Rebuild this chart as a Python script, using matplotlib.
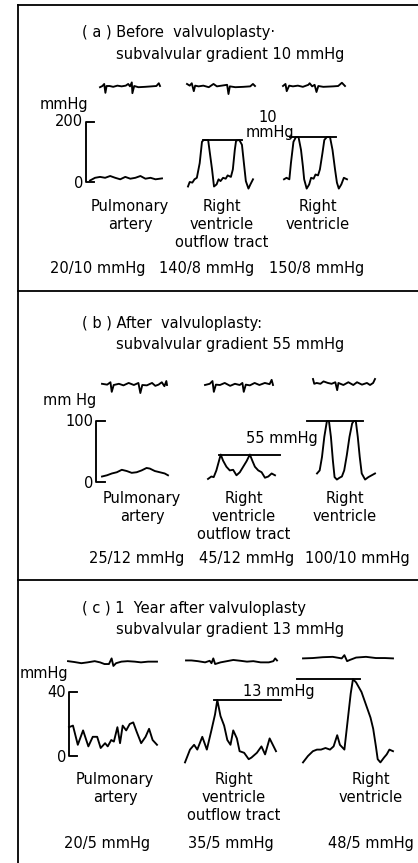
import numpy as np
import matplotlib.pyplot as plt

plt.rcParams['font.family'] = ['DejaVu Sans']

W, H = 418, 863

# ---- panel (a): before valvuloplasty ----
a_title = ["( a ) Before  valvuloplasty·", "subvalvular gradient 10 mmHg"]
a_pa_t = [0, .07, .14, .21, .28, .35, .42, .49, .56, .63, .70, .77, .84, .91, 1.0]
a_pa_p = [5, 14, 17, 14, 20, 14, 9, 17, 11, 14, 20, 11, 14, 9, 12]
a_rvot_t = [0, .026, .067, .10, .136, .18, .215, .24, .31, .33, .37, .40, .44, .47, .50,
            .54, .58, .61, .66, .69, .72, .74, .79, .83, .86, .89, .93, .96, 1.0]
a_rvot_p = [-15, 0, -2, 9, 14, 63, 134, 140, 140, 107, 42, -15, -8, 9, 3,
            14, 11, 22, 17, 42, 107, 138, 140, 124, 63, 3, -22, -8, 9]
a_rv_t = [0, .04, .085, .11, .15, .19, .23, .27, .30, .32, .36, .40, .43, .47, .50,
          .54, .57, .61, .64, .68, .73, .77, .81, .84, .87, .91, .95, 1.0]
a_rv_p = [9, 14, 9, 63, 134, 150, 150, 107, 52, 9, -22, -8, 14, 11, 25,
          22, 42, 96, 140, 150, 150, 107, 42, -2, -22, -8, 14, 9]
a_ecg = [
    ([0, .04, .07, .09, .11, .16, .22, .29, .36, .43, .47, .50, .53, .54, .57, .64, .75, .86, .94, .98, 1.0],
     [-1, 0, 1.7, -5.7, 0, 0, -.7, .3, -.3, .3, 1.7, -.3, 3, -6, 0, -1, -.7, -.3, 0, 2.3, 0]),
    ([0, .04, .07, .10, .12, .17, .24, .32, .39, .44, .51, .59, .61, .63, .71, .83, .93, .97, 1.0],
     [1.7, .3, 2.3, -4.3, .3, -.3, .3, -1, 1.7, -.3, .3, 1, -6.7, -.3, -1, -.7, -.3, 1.7, 0]),
    ([0, .04, .06, .10, .16, .24, .32, .41, .43, .47, .51, .54, .57, .65, .81, .89, .95, 1.0],
     [0, 1.7, -4.3, .3, -.3, .3, -.7, 1, 2.3, -.3, 1, -5, 0, -.7, -.3, 0, 2.7, 0]),
]
a_pressures = ["20/10 mmHg", "140/8 mmHg", "150/8 mmHg"]

# ---- panel (b): after valvuloplasty ----
b_title = ["( b ) After  valvuloplasty:", "subvalvular gradient 55 mmHg"]
b_pa_t = [0, .075, .15, .225, .30, .375, .45, .525, .60, .675, .725, .80, .875, .95, 1.0]
b_pa_p = [9, 11, 14, 16, 20, 18, 15, 16, 19, 23, 22, 18, 16, 14, 11]
b_rvot_t = [0, .05, .085, .125, .16, .19, .225, .275, .325, .375, .425, .475, .525, .575,
            .625, .665, .70, .75, .80, .85, .90, .95, 1.0]
b_rvot_p = [5, 9, 8, 19, 33, 45, 35, 25, 19, 20, 11, 16, 25, 34,
            45, 34, 25, 19, 16, 7, 9, 14, 11]
b_rv_t = [0, .046, .086, .126, .171, .206, .24, .274, .303, .343, .389, .429, .469, .514,
          .56, .606, .634, .669, .703, .737, .771, .829, .886, 1.0]
b_rv_p = [14, 19, 41, 74, 100, 100, 74, 35, 8, 4, 7, 9, 19, 44,
          74, 96, 100, 100, 74, 41, 14, 4, 8, 14]
b_ecg = [
    ([0, .08, .13, .15, .18, .26, .33, .41, .49, .56, .59, .62, .69, .77, .82, .87, .92, .96, .99, 1.0],
     [1, .3, 2.3, -5.7, 0, 1, -.3, 1.7, 0, 1.7, -6.7, 0, -.3, 1.7, -.7, .3, 2.3, -1, 3.3, 0]),
    ([0, .07, .11, .13, .16, .22, .29, .37, .44, .51, .55, .57, .60, .66, .73, .80, .88, .95, .98, 1.0],
     [0, 1, 3.3, -5.7, .3, 0, 1.7, -.7, 1, 0, 1.7, -5.7, .3, -.3, 1.7, 0, 1.7, .7, 4.3, 0]),
    ([0, .02, .06, .12, .17, .24, .30, .36, .39, .41, .49, .57, .65, .71, .79, .87, .92, .97, 1.0],
     [5, 1, 1.7, 1, 3, 1.7, 1, 2.3, -4.3, 1.7, 0, 2.3, 0, 2.3, .3, 1.7, 0, 1.7, 5]),
]
b_pressures = ["25/12 mmHg", "45/12 mmHg", "100/10 mmHg"]

# ---- panel (c): one year later ----
c_title = ["( c ) 1  Year after valvuloplasty", "subvalvular gradient 13 mmHg"]
c_pa_t = [0, .045, .10, .16, .22, .27, .32, .36, .41, .44, .48, .51, .55, .58, .61, .65,
          .69, .73, .77, .82, .87, .91, .95, 1.0]
c_pa_p = [18, 19, 7, 16, 6, 12, 12, 5, 8, 6, 10, 9, 18, 8, 19, 16,
          20, 21, 15, 8, 12, 17, 10, 7]
c_rvot_t = [0, .055, .10, .135, .19, .24, .29, .33, .355, .39, .43, .465, .50, .53, .57, .60,
            .65, .70, .73, .79, .84, .88, .93, 1.0]
c_rvot_p = [-4, 4, 7, 4, 12, 4, 16, 26, 35, 25, 19, 10, 7, 16, 11, 3,
            2, -2, -1, 2, 6, 1, 11, 3]
c_rv_t = [0, .055, .11, .155, .20, .25, .30, .34, .38, .41, .46, .50, .53, .555, .59, .65,
          .70, .75, .78, .81, .83, .86, .90, .93, .96, 1.0]
c_rv_p = [-4, 0, 3, 4, 4, 5, 4, 6, 13, 7, 4, 24, 39, 48, 46, 40,
          32, 24, 17, 6, -2, -4, -1, 1, 4, 3]
c_ecg = [
    ([0, .07, .15, .22, .30, .36, .41, .46, .49, .51, .54, .60, .67, .75, .82, .90, 1.0],
     [.7, 0, -1, -.3, .7, -.3, -1.7, -1.7, 3, -3.3, -1, .3, .7, .3, -.3, .3, .3]),
    ([0, .06, .13, .21, .26, .28, .30, .32, .38, .45, .52, .60, .67, .74, .82, .91, .96, .98, 1.0],
     [1.3, 1.3, .7, -.3, 1, -1, 3, -1.7, -.3, .7, 1.7, 1, .3, .7, -.3, -.3, .7, 3, 1.3]),
    ([0, .11, .22, .33, .43, .46, .49, .52, .59, .70, .81, .91, 1.0],
     [3, 3.3, 4, 4.3, 3, 5.7, .7, 1.7, 3.7, 4.3, 3.3, 3.3, 3]),
]
c_pressures = ["20/5 mmHg", "35/5 mmHg", "48/5 mmHg"]

sites = [["Pulmonary", "artery"],
         ["Right", "ventricle", "outflow tract"],
         ["Right", "ventricle"]]

panels = [
    dict(title=a_title, title_y=33, unit="mmHg", unit_xy=(64, 105), top_val=200,
         zero_px=182, top_px=122, bar_x=86, bar_len=8,
         traces=[(a_pa_t, a_pa_p, 90, 162), (a_rvot_t, a_rvot_p, 188, 253), (a_rv_t, a_rv_p, 284, 347)],
         grad_lines=[(140, 203, 242), (150, 290, 336)],
         grad_text=[("10", 268, 117), ("mmHg", 270, 133)],
         ecg=a_ecg, ecg_y=86, ecg_gain=1.2, ecg_x=[(100, 160), (187, 255), (283, 345)],
         site_x=[130, 222, 318], site_y=206, press=a_pressures, press_x=[98, 207, 317], press_y=268),
    dict(title=b_title, title_y=323, unit="mm Hg", unit_xy=(70, 400), top_val=100,
         zero_px=482, top_px=421, bar_x=96, bar_len=9,
         traces=[(b_pa_t, b_pa_p, 102, 168), (b_rvot_t, b_rvot_p, 208, 275), (b_rv_t, b_rv_p, 317, 375)],
         grad_lines=[(45, 219, 280), (100, 307, 363)],
         grad_text=[("55 mmHg", 282, 438)],
         ecg=b_ecg, ecg_y=385, ecg_gain=1.2, ecg_x=[(102, 167), (205, 273), (313, 375)],
         site_x=[142, 244, 345], site_y=498, press=b_pressures, press_x=[137, 247, 357], press_y=558),
    dict(title=c_title, title_y=608, unit="mmHg", unit_xy=(44, 673), top_val=40,
         zero_px=756, top_px=692, bar_x=69, bar_len=8,
         traces=[(c_pa_t, c_pa_p, 69, 157), (c_rvot_t, c_rvot_p, 185, 276), (c_rv_t, c_rv_p, 303, 393)],
         grad_lines=[(35, 214, 281), (48, 297, 360)],
         grad_text=[("13 mmHg", 279, 691)],
         ecg=c_ecg, ecg_y=662, ecg_gain=1.2, ecg_x=[(68, 157), (186, 277), (303, 393)],
         site_x=[115, 234, 371], site_y=779, press=c_pressures, press_x=[107, 231, 371], press_y=843),
]

fig = plt.figure(figsize=(W / 100, H / 100), dpi=100)
bg = fig.add_axes([0, 0, 1, 1])
bg.set_xlim(0, W)
bg.set_ylim(H, 0)
bg.axis("off")

lw = 1.35
fs = 10.5

# frame: left edge, top edge and the two dividers
bg.plot([18, 18], [5, H], color="black", lw=1.3)
for yy in [5, 291, 580]:
    bg.plot([18, W], [yy, yy], color="black", lw=1.3)

for pnl in panels:
    # heading
    bg.text(82, pnl["title_y"], pnl["title"][0], fontsize=fs, va="center", ha="left")
    bg.text(116, pnl["title_y"] + 21, pnl["title"][1], fontsize=fs, va="center", ha="left")

    # ECG strips
    for (t, v), (x0, x1) in zip(pnl["ecg"], pnl["ecg_x"]):
        xs = x0 + np.array(t) * (x1 - x0)
        ys = pnl["ecg_y"] - np.array(v) * pnl["ecg_gain"]
        bg.plot(xs, ys, color="black", lw=lw)

    # pressure axes, y in mmHg
    z, tp = pnl["zero_px"], pnl["top_px"]
    ax = fig.add_axes([0, 1 - z / H, 1, (z - tp) / H])
    ax.set_xlim(0, W)
    ax.set_ylim(0, pnl["top_val"])
    ax.axis("off")
    ax.patch.set_alpha(0)

    bx, bl, top = pnl["bar_x"], pnl["bar_len"], pnl["top_val"]
    ax.plot([bx + bl, bx, bx, bx + bl], [top, top, 0, 0], color="black", lw=lw, clip_on=False)
    bg.text(pnl["unit_xy"][0], pnl["unit_xy"][1], pnl["unit"], fontsize=fs, ha="center", va="center")
    bg.text(bx - 3, tp, str(top), fontsize=fs, ha="right", va="center")
    bg.text(bx - 3, z + 1, "0", fontsize=fs, ha="right", va="center")

    for t, p, x0, x1 in pnl["traces"]:
        xs = x0 + np.array(t) * (x1 - x0)
        ax.plot(xs, p, color="black", lw=lw, clip_on=False, solid_joinstyle="round")

    for val, x0, x1 in pnl["grad_lines"]:
        ax.plot([x0, x1], [val, val], color="black", lw=lw, clip_on=False)
    for s, tx, ty in pnl["grad_text"]:
        bg.text(tx, ty, s, fontsize=fs, ha="center", va="center")

    # site names and systolic/diastolic pressures
    for names, sx in zip(sites, pnl["site_x"]):
        for k, line in enumerate(names):
            bg.text(sx, pnl["site_y"] + 18 * k, line, fontsize=fs, ha="center", va="center")
    for s, px in zip(pnl["press"], pnl["press_x"]):
        bg.text(px, pnl["press_y"], s, fontsize=fs, ha="center", va="center")

fig.savefig("out.png", dpi=100, facecolor="white")
